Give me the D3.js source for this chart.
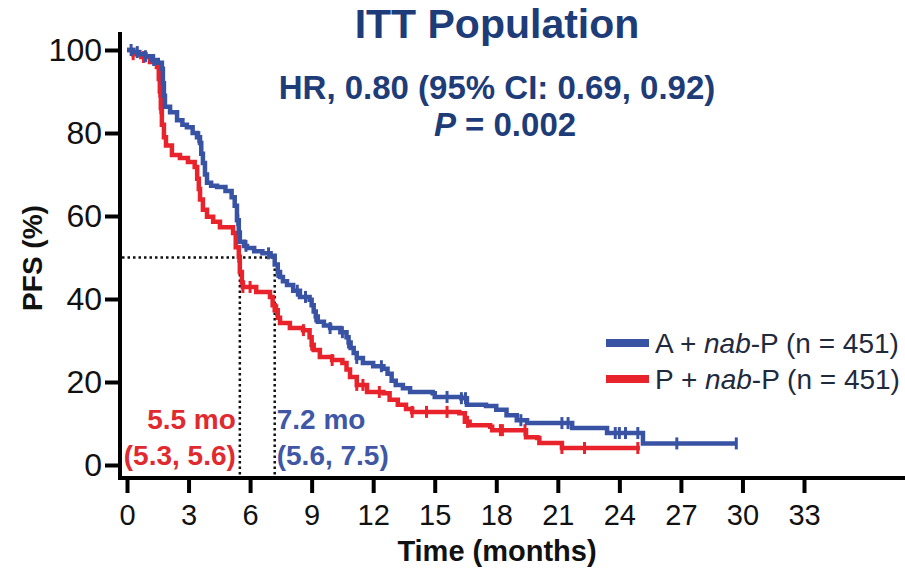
<!DOCTYPE html>
<html>
<head>
<meta charset="utf-8">
<script src="https://cdn.jsdelivr.net/npm/d3@7"></script>
<style>
  html, body { margin: 0; padding: 0; background: #fff; }
  svg { display: block; font-family: Arial, "Liberation Sans", Helvetica, sans-serif; }
</style>
</head>
<body>
<svg id="chart" width="905" height="570"></svg>
<script>
// Kaplan–Meier PFS estimates, ITT population (time in months, PFS in %)
const blueTimes = [0, 0.3, 0.6, 0.9, 1.2, 1.5, 1.7, 1.75, 1.8, 1.85, 2.1, 2.44, 2.7, 2.92, 3.2, 3.41, 3.56, 3.62, 3.7, 3.8, 3.9, 4.1, 4.39, 4.8, 5.1, 5.25, 5.36, 5.45, 5.5, 5.7, 5.85, 6.2, 6.6, 7.0, 7.2, 7.35, 7.46, 7.6, 7.8, 8.1, 8.43, 8.9, 9.0, 9.1, 9.2, 9.3, 9.6, 9.9, 10.4, 10.7, 10.8, 10.9, 11.05, 11.2, 11.5, 12.0, 12.5, 12.7, 12.9, 13.1, 13.45, 13.8, 14.9, 15.0, 16.3, 16.57, 17.5, 18.0, 18.5, 19.0, 19.5, 21.7, 23.4, 25.15, 29.7];
const blueValues = [100, 99.5, 99, 98.5, 97.6, 96.9, 95.5, 92, 89, 86.3, 85, 83.1, 82, 81.4, 80, 79, 77.6, 75, 72.8, 70, 68, 67.3, 67, 66, 64.5, 62.5, 59, 56, 53.8, 52.8, 52.3, 51.5, 51, 50.4, 48.3, 46.5, 45.3, 44.3, 43.4, 42, 40.5, 39.8, 38.5, 37, 35.8, 34.5, 33.6, 33, 32, 30.8, 29.5, 28.2, 27, 25.8, 24.6, 23.8, 23.2, 22, 20.3, 19.3, 18.5, 17.6, 17.3, 16.4, 16.1, 14.5, 14.2, 13.3, 12, 10.8, 10.1, 8.9, 7.7, 5.2, 5.2];
const blueCensored = [0.2, 0.5, 0.9, 1.3, 3.5, 5.4, 5.8, 6.9, 7.35, 8.3, 8.7, 9.2, 9.9, 10.5, 10.8, 11.2, 12.4, 15.6, 16.3, 16.5, 19.2, 21.2, 21.5, 23.8, 24.0, 24.3, 24.9, 26.8, 29.7];

const redTimes = [0, 0.3, 0.7, 1.12, 1.46, 1.55, 1.6, 1.65, 1.7, 1.8, 1.9, 2.19, 2.58, 2.97, 3.3, 3.42, 3.5, 3.56, 3.7, 3.9, 4.2, 4.53, 5.17, 5.3, 5.45, 5.5, 5.6, 5.65, 6.3, 6.97, 7.1, 7.2, 7.35, 7.46, 7.94, 8.58, 8.9, 9.0, 9.1, 9.4, 10.0, 10.5, 10.7, 10.87, 11.2, 11.7, 12.5, 12.8, 13.2, 13.6, 13.9, 16.2, 16.47, 16.7, 17.7, 17.8, 19.45, 20.0, 20.1, 21.2, 25.0];
const redValues = [100, 99, 98.3, 97.1, 95.9, 93, 90, 86, 82, 79, 77, 74.7, 74, 73, 71.8, 69, 66.5, 64, 61.5, 59.8, 58.6, 57.3, 55.9, 52.5, 50.2, 46.5, 44, 42.9, 41.7, 40.5, 38.5, 37.3, 35.5, 34.2, 33, 32.5, 30.8, 29, 27.7, 26, 25.3, 24.6, 23, 21.2, 19.3, 17.6, 17.3, 15.7, 14.5, 13.5, 12.8, 12.5, 10.4, 9.6, 9.2, 8.4, 6.7, 6.5, 5.3, 4.1, 4.1];
const redCensored = [0.3, 0.8, 1.6, 1.65, 5.45, 5.65, 6.0, 7.3, 8.6, 9.0, 10.0, 11.2, 11.5, 12.3, 13.9, 14.6, 15.6, 16.6, 18.2, 18.3, 19.4, 21.2, 22.3, 24.9];

const xTicks = [0, 3, 6, 9, 12, 15, 18, 21, 24, 27, 30, 33];
const yTicks = [0, 20, 40, 60, 80, 100];

const arms = [
  { name: "A", label: ["A + ", "nab", "-P (n = 451)"], times: blueTimes, values: blueValues, censored: blueCensored,
    median: 7.2, medianText: "7.2 mo", ciText: "(5.6, 7.5)", color: "#3953a4", textColor: "#4057a6" },
  { name: "P", label: ["P + ", "nab", "-P (n = 451)"], times: redTimes, values: redValues, censored: redCensored,
    median: 5.5, medianText: "5.5 mo", ciText: "(5.3, 5.6)", color: "#e8232b", textColor: "#e02a30" }
];

const svg = d3.select("#chart");
const x = d3.scaleLinear().domain([0, 33]).range([127, 804]);
const y = d3.scaleLinear().domain([0, 100]).range([465, 50]);
const axisX = 120, axisY = 478;

// Headings
const navy = "#1e3c78";
svg.append("text").attr("x", 497).attr("y", 38).attr("text-anchor", "middle")
  .attr("font-size", 41).attr("font-weight", "bold").attr("fill", navy).text("ITT Population");
svg.append("text").attr("x", 497).attr("y", 99).attr("text-anchor", "middle")
  .attr("font-size", 33).attr("font-weight", "bold").attr("fill", navy).text("HR, 0.80 (95% CI: 0.69, 0.92)");
const pLine = svg.append("text").attr("x", 505).attr("y", 136).attr("text-anchor", "middle")
  .attr("font-size", 33).attr("font-weight", "bold").attr("fill", navy);
pLine.append("tspan").attr("font-style", "italic").text("P");
pLine.append("tspan").text(" = 0.002");

// Median reference lines (dotted)
const refG = svg.append("g").attr("stroke", "#111").attr("stroke-width", 2.5)
  .attr("stroke-dasharray", "2.5,3").attr("fill", "none");
const maxMedian = d3.max(arms, d => d.median);
refG.append("line").attr("x1", axisX + 2).attr("x2", x(maxMedian)).attr("y1", y(50)).attr("y2", y(50));
arms.forEach(a => {
  refG.append("line").attr("x1", x(a.median)).attr("x2", x(a.median)).attr("y1", y(50)).attr("y2", axisY - 2);
});

// Survival curves
const stepLine = d3.line().x(d => x(d[0])).y(d => y(d[1])).curve(d3.curveStepAfter);
function valueAt(a, t) {
  const i = d3.bisectRight(a.times, t) - 1;
  return a.values[Math.max(0, i)];
}
// red first so blue sits on top where they overlap
[arms[1], arms[0]].forEach(a => {
  const pts = a.times.map((t, i) => [t, a.values[i]]);
  svg.append("path").attr("d", stepLine(pts)).attr("fill", "none")
    .attr("stroke", a.color).attr("stroke-width", 4.5).attr("stroke-linejoin", "miter");
  svg.append("g").selectAll("line").data(a.censored).join("line")
    .attr("x1", t => x(t)).attr("x2", t => x(t))
    .attr("y1", t => y(valueAt(a, t)) - 6).attr("y2", t => y(valueAt(a, t)) + 6)
    .attr("stroke", a.color).attr("stroke-width", 3);
});

// Axes
const yAxis = svg.append("g").attr("transform", `translate(${axisX},0)`)
  .call(d3.axisLeft(y).tickValues(yTicks).tickSize(15).tickPadding(3));
yAxis.select(".domain").remove();
yAxis.selectAll(".tick line").attr("stroke", "#000").attr("stroke-width", 4);
yAxis.selectAll(".tick text").attr("font-size", 32).attr("font-family", null).attr("fill", "#111");

const xAxis = svg.append("g").attr("transform", `translate(0,${axisY})`)
  .call(d3.axisBottom(x).tickValues(xTicks).tickSize(15).tickPadding(11));
xAxis.select(".domain").remove();
xAxis.selectAll(".tick line").attr("stroke", "#000").attr("stroke-width", 4);
xAxis.selectAll(".tick text").attr("font-size", 29).attr("font-family", null).attr("fill", "#111");

svg.append("line").attr("x1", axisX).attr("x2", axisX).attr("y1", 32).attr("y2", axisY + 2)
  .attr("stroke", "#000").attr("stroke-width", 4);
svg.append("line").attr("x1", axisX - 2).attr("x2", 905).attr("y1", axisY).attr("y2", axisY)
  .attr("stroke", "#000").attr("stroke-width", 4);

// Axis titles
svg.append("text").attr("transform", "translate(42,258) rotate(-90)").attr("text-anchor", "middle")
  .attr("font-size", 28).attr("font-weight", "bold").attr("fill", "#111").text("PFS (%)");
svg.append("text").attr("x", 497).attr("y", 561).attr("text-anchor", "middle")
  .attr("font-size", 29).attr("font-weight", "bold").attr("fill", "#111").text("Time (months)");

// Median annotations
arms.forEach(a => {
  const right = a.median < maxMedian;
  const ax = right ? x(a.median) - 4 : x(a.median) + 2;
  const anchor = right ? "end" : "start";
  svg.append("text").attr("x", ax).attr("y", 429).attr("text-anchor", anchor)
    .attr("font-size", 28).attr("font-weight", "bold").attr("fill", a.textColor).text(a.medianText);
  svg.append("text").attr("x", ax).attr("y", 465).attr("text-anchor", anchor)
    .attr("font-size", 28).attr("font-weight", "bold").attr("fill", a.textColor).text(a.ciText);
});

// Legend
arms.forEach((a, i) => {
  const ly = 343 + i * 36;
  svg.append("line").attr("x1", 606).attr("x2", 649).attr("y1", ly).attr("y2", ly)
    .attr("stroke", a.color).attr("stroke-width", 8);
  const t = svg.append("text").attr("x", 655).attr("y", ly + 10)
    .attr("font-size", 28).attr("fill", "#1f2a3c");
  t.append("tspan").text(a.label[0]);
  t.append("tspan").attr("font-style", "italic").text(a.label[1]);
  t.append("tspan").text(a.label[2]);
});
</script>
</body>
</html>
